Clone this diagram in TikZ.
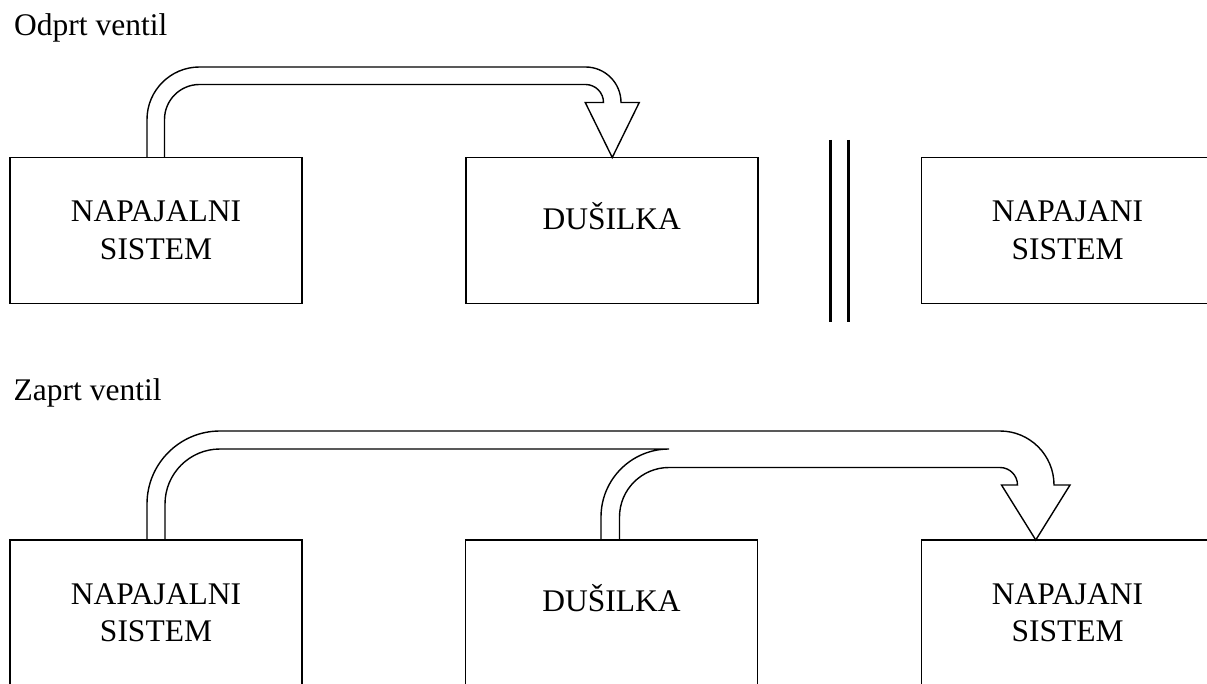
\documentclass[tikz,border=0pt]{standalone}
\usepackage{fontspec}
\setmainfont{Liberation Serif}

\begin{document}
\begin{tikzpicture}[x=1pt,y=-1pt,
  box/.style={draw, line width=1.8pt, minimum width=292pt, minimum height=146pt,
              inner sep=0pt, outer sep=0pt},
  lbl/.style={align=center, inner sep=0pt, font=\fontsize{31.5}{37.5}\selectfont},
  heading/.style={anchor=base west, inner sep=0pt, font=\fontsize{31.5}{37.5}\selectfont},
  pipe/.style={draw, line width=1.4pt, line join=miter},
  wall/.style={line width=3.5pt}]

\path[use as bounding box, clip] (0,0) rectangle (1207,684);

% ---------- open valve ----------
\node[heading] (h1) at (14,35.7) {Odprt ventil};

\node[box] (b1) at (156,230.5) {};
\node[box] (b2) at (611.75,230.5) {};
\node[box] (b3) at (1067.5,230.5) {};

\node[lbl] (t1) at (b1.center) {NAPAJALNI\\SISTEM};
\node[lbl, anchor=base] (t2) at ([yshift=1.2pt]b2.center) {DUŠILKA};
\node[lbl] (t3) at (b3.center) {NAPAJANI\\SISTEM};

% closed line between the choke and the supplied system
\draw[wall] (830.7,140) -- (830.7,321.7);
\draw[wall] (848.3,140) -- (848.3,321.7);

% flow from the supply system into the choke
\draw[pipe] ([xshift=-9pt]b1.north) -- (147,119.5)
  arc[start angle=180, end angle=270, radius=52.5] -- (585.5,67)
  arc[start angle=270, end angle=360, radius=35.5] -- (639.25,102.5)
  -- ([xshift=0.5pt]b2.north) -- (585.25,102.5) -- (603.5,102.5)
  arc[start angle=0, end angle=-90, radius=18] -- (199.5,84.5)
  arc[start angle=270, end angle=180, radius=35] -- ([xshift=8.5pt]b1.north);

% ---------- closed valve ----------
\node[heading] (h2) at (13.5,400.7) {Zaprt ventil};

\node[box] (b4) at (156,613) {};
\node[box] (b5) at (611.5,613) {};
\node[box] (b6) at (1067.5,613) {};

\node[lbl] (t4) at (b4.center) {NAPAJALNI\\SISTEM};
\node[lbl, anchor=base] (t5) at ([yshift=1.3pt]b5.center) {DUŠILKA};
\node[lbl] (t6) at (b6.center) {NAPAJANI\\SISTEM};

% merged flow: supply system and choke into the supplied system
\draw[pipe] ([xshift=-9pt]b4.north) -- (147,504)
  arc[start angle=180, end angle=270, radius=73] -- (1000,431)
  arc[start angle=270, end angle=360, radius=54] -- (1070,485)
  -- ([xshift=-31.75pt]b6.north) -- (1001.5,485) -- (1017.5,485)
  arc[start angle=0, end angle=-90, radius=17.5] -- (669,467.5)
  arc[start angle=270, end angle=180, radius=49.5] -- ([xshift=8pt]b5.north);

\draw[pipe] ([xshift=9pt]b4.north) -- (165,504)
  arc[start angle=180, end angle=270, radius=55] -- (669,449)
  arc[start angle=270, end angle=180, radius=68] -- ([xshift=-10.5pt]b5.north);

\end{tikzpicture}
\end{document}
